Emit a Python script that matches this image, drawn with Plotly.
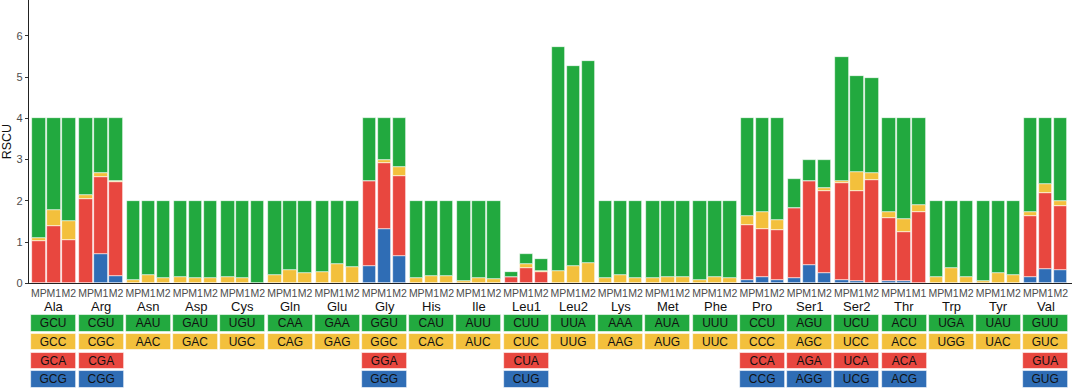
import plotly.graph_objects as go

# ---------------- data ----------------
amino_acids = ["Ala", "Arg", "Asn", "Asp", "Cys", "Gln", "Glu", "Gly", "His", "Ile", "Leu1",
               "Leu2", "Lys", "Met", "Phe", "Pro", "Ser1", "Ser2", "Thr", "Trp", "Tyr", "Val"]

sample_labels = [["MP", "M1", "M2"]] * 18 + [["MP", "M1", "M1"]] + [["MP", "M1", "M2"]] * 3

# codon names per row (green, yellow, red, blue); None = no codon
codon_green = ["GCU", "CGU", "AAU", "GAU", "UGU", "CAA", "GAA", "GGU", "CAU", "AUU", "CUU",
               "UUA", "AAA", "AUA", "UUU", "CCU", "AGU", "UCU", "ACU", "UGA", "UAU", "GUU"]
codon_yellow = ["GCC", "CGC", "AAC", "GAC", "UGC", "CAG", "GAG", "GGC", "CAC", "AUC", "CUC",
                "UUG", "AAG", "AUG", "UUC", "CCC", "AGC", "UCC", "ACC", "UGG", "UAC", "GUC"]
codon_red = ["GCA", "CGA", None, None, None, None, None, "GGA", None, None, "CUA",
             None, None, None, None, "CCA", "AGA", "UCA", "ACA", None, None, "GUA"]
codon_blue = ["GCG", "CGG", None, None, None, None, None, "GGG", None, None, "CUG",
              None, None, None, None, "CCG", "AGG", "UCG", "ACG", None, None, "GUG"]

# RSCU values [MP, M1, M2] per amino acid
rscu_green = [[2.91, 2.22, 2.48], [1.85, 1.32, 1.53], [1.92, 1.81, 1.87], [1.85, 1.88, 1.87],
              [1.84, 1.87, 2.00], [1.81, 1.67, 1.76], [1.73, 1.53, 1.61], [1.53, 1.00, 1.19],
              [1.87, 1.83, 1.83], [1.94, 1.88, 1.89], [0.11, 0.25, 0.28], [5.41, 4.85, 4.91],
              [1.87, 1.81, 1.86], [1.87, 1.85, 1.84], [1.92, 1.84, 1.88], [2.37, 2.27, 2.46],
              [0.70, 0.50, 0.68], [3.01, 2.33, 2.30], [2.27, 2.45, 2.10], [1.85, 1.64, 1.85],
              [1.95, 1.75, 1.79], [2.28, 1.59, 2.00]]
rscu_yellow = [[0.07, 0.40, 0.48], [0.11, 0.10, 0.02], [0.08, 0.19, 0.13], [0.15, 0.12, 0.13],
               [0.16, 0.13, 0.00], [0.19, 0.33, 0.24], [0.27, 0.47, 0.39], [0.00, 0.09, 0.21],
               [0.13, 0.17, 0.17], [0.06, 0.12, 0.11], [0.01, 0.10, 0.04], [0.31, 0.43, 0.49],
               [0.13, 0.19, 0.14], [0.13, 0.15, 0.16], [0.08, 0.16, 0.12], [0.22, 0.42, 0.24],
               [0.00, 0.00, 0.07], [0.04, 0.45, 0.18], [0.15, 0.30, 0.17], [0.15, 0.36, 0.15],
               [0.05, 0.25, 0.21], [0.09, 0.22, 0.12]]
rscu_red = [[1.02, 1.38, 1.04], [2.04, 1.87, 2.28], [0, 0, 0], [0, 0, 0],
            [0, 0, 0], [0, 0, 0], [0, 0, 0], [2.06, 1.59, 1.94],
            [0, 0, 0], [0, 0, 0], [0.15, 0.36, 0.27], [0, 0, 0],
            [0, 0, 0], [0, 0, 0], [0, 0, 0], [1.32, 1.16, 1.22],
            [1.68, 2.03, 2.01], [2.36, 2.18, 2.50], [1.52, 1.19, 1.73], [0, 0, 0],
            [0, 0, 0], [1.47, 1.84, 1.56]]
rscu_blue = [[0.00, 0.00, 0.00], [0.00, 0.71, 0.18], [0, 0, 0], [0, 0, 0],
             [0, 0, 0], [0, 0, 0], [0, 0, 0], [0.41, 1.32, 0.66],
             [0, 0, 0], [0, 0, 0], [0.00, 0.00, 0.00], [0, 0, 0],
             [0, 0, 0], [0, 0, 0], [0, 0, 0], [0.09, 0.15, 0.08],
             [0.14, 0.45, 0.24], [0.08, 0.06, 0.00], [0.06, 0.06, 0.00], [0, 0, 0],
             [0, 0, 0], [0.16, 0.35, 0.32]]

y_ticks = [0, 1, 2, 3, 4, 5, 6]

# ---------------- style ----------------
C_GREEN = "#22A93F"
C_YELLOW = "#F3C03C"
C_RED = "#E8473F"
C_BLUE = "#2F6DB5"
FONT = "Liberation Sans, Arial, Helvetica, sans-serif"

GROUP_PITCH = 3.15
n = len(amino_acids)

xs, tick_text = [], []
for g in range(n):
    for j in range(3):
        xs.append(g * GROUP_PITCH + j)
        tick_text.append(sample_labels[g][j])
group_centers = [g * GROUP_PITCH + 1 for g in range(n)]


def flat(v):
    return [val for grp in v for val in grp]


blue_f, red_f, yellow_f, green_f = flat(rscu_blue), flat(rscu_red), flat(rscu_yellow), flat(rscu_green)

fig = go.Figure()
base = [0.0] * len(xs)
for vals, col in [(blue_f, C_BLUE), (red_f, C_RED), (yellow_f, C_YELLOW), (green_f, C_GREEN)]:
    fig.add_trace(go.Bar(
        x=xs, y=vals, base=list(base), width=0.89,
        marker=dict(color=col, line=dict(color="rgba(255,255,255,0.85)", width=0.7)),
        showlegend=False, hoverinfo="skip"))
    base = [b + v for b, v in zip(base, vals)]

# codon table
for r, (codons, col) in enumerate([(codon_green, C_GREEN), (codon_yellow, C_YELLOW),
                                    (codon_red, C_RED), (codon_blue, C_BLUE)]):
    tx = [group_centers[g] for g in range(n) if codons[g]]
    tt = [codons[g] for g in range(n) if codons[g]]
    fig.add_trace(go.Bar(
        x=tx, y=[0.88] * len(tx), base=[r + 0.06] * len(tx), width=3.0,
        text=tt, textposition="inside", insidetextanchor="middle", textangle=0,
        constraintext="none",
        textfont=dict(family=FONT, size=12, color="#111111"),
        marker=dict(color=col, line=dict(color="rgba(255,255,255,0.85)", width=0.7)),
        xaxis="x2", yaxis="y2", showlegend=False, hoverinfo="skip"))

for g in range(n):
    fig.add_annotation(x=group_centers[g], y=(389 - 297.5) / 389, xref="x", yref="paper",
                       text=amino_acids[g], showarrow=False,
                       font=dict(family=FONT, size=13, color="#111111"),
                       xanchor="center", yanchor="top", borderpad=0)

x_range = [-0.66, 68.9]
fig.update_layout(
    width=1072, height=389,
    margin=dict(l=29, r=0, t=0, b=0, autoexpand=False),
    plot_bgcolor="white", paper_bgcolor="white",
    barmode="overlay", bargap=0,
    font=dict(family=FONT),
    xaxis=dict(range=x_range, domain=[0, 1], showgrid=False, zeroline=False,
               showline=True, linecolor="#222222", linewidth=1.3, automargin=False,
               tickmode="array", tickvals=xs, ticktext=tick_text, ticks="", tickangle=0,
               tickfont=dict(family=FONT, size=10.5, color="#4d4d4d"), ticklabelstandoff=0),
    yaxis=dict(range=[0, 6.87], domain=[(389 - 283.3) / 389, 1], showgrid=False, zeroline=False,
               showline=True, linecolor="#222222", linewidth=1.3, automargin=False,
               tickmode="array", tickvals=y_ticks, ticks="outside", ticklen=3,
               tickcolor="#333333", tickfont=dict(family=FONT, size=11, color="#4d4d4d"),
               title=dict(text="RSCU", font=dict(family=FONT, size=12.5, color="#111111"),
                          standoff=3)),
    xaxis2=dict(range=x_range, domain=[0, 1], anchor="y2", visible=False, matches="x"),
    yaxis2=dict(range=[4, 0], domain=[0.0008, 0.1931], anchor="x2", visible=False),
)

fig.write_html("out.html", config={"displayModeBar": False},
               post_script="document.body.style.margin='0px';document.body.style.overflow='hidden';")
